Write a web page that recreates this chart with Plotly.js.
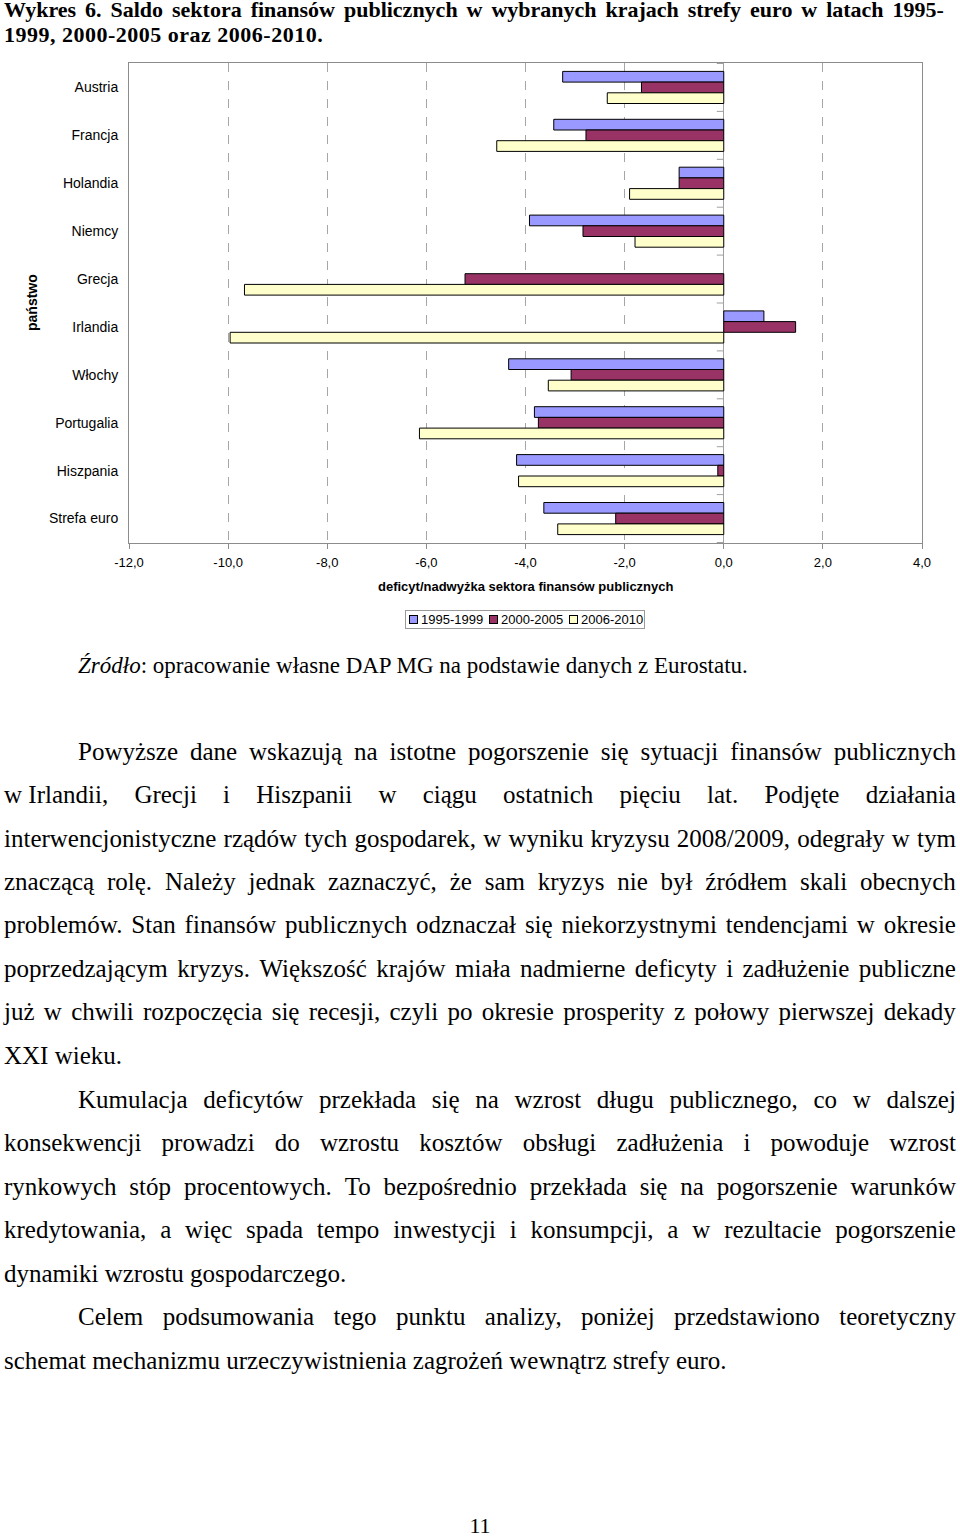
<!DOCTYPE html>
<html>
<head>
<meta charset="utf-8">
<script src="https://cdn.plot.ly/plotly-3.0.1.min.js"></script>
<style>
  html, body { margin: 0; padding: 0; background: #fff; }
  body { width: 960px; height: 1537px; position: relative; overflow: hidden; }
  #chart { position: absolute; left: 0; top: 0; width: 960px; height: 645px; }
  .serif { font-family: "Liberation Serif", "Times New Roman", serif; color: #000; }
  .line { position: absolute; left: 4px; width: 952px; height: 30px; line-height: 30px; font-size: 25px; white-space: nowrap; }
  .just { display: flex; justify-content: space-between; }
  .title { position: absolute; left: 4px; font-size: 22px; font-weight: bold; height: 26px; line-height: 26px; white-space: nowrap; }
  #legend { position: absolute; left: 405px; top: 610px; width: 238px; height: 17px; border: 1px solid #9a9a9a; background: #fff;
            font-family: "Liberation Sans", Arial, sans-serif; font-size: 13px; line-height: 17px; color: #000; }
  #legend .item { position: absolute; top: 0; white-space: nowrap; }
  #legend .sw { display: inline-block; width: 7px; height: 7px; border: 1px solid #000; margin-right: 3px; vertical-align: 0px; }
</style>
</head>
<body>
<div id="chart"></div>
<div id="legend"></div>
<div id="text"></div>
<script>
// ---- data ----
const categories = ["Austria", "Francja", "Holandia", "Niemcy", "Grecja", "Irlandia", "Włochy", "Portugalia", "Hiszpania", "Strefa euro"];
const seriesNames = ["1995-1999", "2000-2005", "2006-2010"];
const v1995_1999 = [-3.25, -3.43, -0.90, -3.92, null, 0.81, -4.34, -3.82, -4.18, -3.63];
const v2000_2005 = [-1.66, -2.78, -0.90, -2.84, -5.22, 1.45, -3.08, -3.74, -0.12, -2.18];
const v2006_2010 = [-2.35, -4.58, -1.90, -1.79, -9.67, -9.96, -3.54, -6.14, -4.14, -3.35];
const xTickValues = [-12, -10, -8, -6, -4, -2, 0, 2, 4];
const xTickLabels = ["-12,0", "-10,0", "-8,0", "-6,0", "-4,0", "-2,0", "0,0", "2,0", "4,0"];

const seriesValues = [v1995_1999, v2000_2005, v2006_2010];
const colors = ["#9999FF", "#993366", "#FFFFCC"];

const traces = seriesValues.map((vals, i) => ({
  type: "bar",
  orientation: "h",
  name: seriesNames[i],
  y: categories,
  x: vals,
  marker: { color: colors[i], line: { color: "#000000", width: 1 } },
  hoverinfo: "x+y+name"
}));

// small tick marks between categories on the vertical axis (drawn at x = 0)
const shapes = [];
for (let i = 0; i <= categories.length; i++) {
  shapes.push({
    type: "line", xref: "x", yref: "y",
    x0: -0.14, x1: 0, y0: i - 0.5, y1: i - 0.5,
    line: { color: "#a0a0a0", width: 1 }
  });
}

const layout = {
  width: 960, height: 645,
  margin: { l: 129, r: 38, t: 63, b: 102, pad: 0 },
  paper_bgcolor: "rgba(0,0,0,0)",
  plot_bgcolor: "#ffffff",
  separators: ",.",
  barmode: "group",
  bargap: 0.33,
  bargroupgap: 0,
  font: { family: "Liberation Sans, Arial, sans-serif", size: 13, color: "#000" },
  showlegend: false,
  xaxis: {
    range: [-12, 4], tickvals: xTickValues, ticktext: xTickLabels,
    showgrid: true, gridcolor: "#a6a6a6", griddash: "dash", gridwidth: 1,
    zeroline: true, zerolinecolor: "#a0a0a0", zerolinewidth: 1,
    showline: true, linecolor: "#8c8c8c", linewidth: 1, mirror: true,
    ticks: "outside", ticklen: 5, tickcolor: "#8c8c8c", ticklabelstandoff: 2,
    tickfont: { size: 13 }, fixedrange: true
  },
  yaxis: {
    type: "category", categoryorder: "array", categoryarray: categories,
    autorange: "reversed",
    showgrid: false, zeroline: false,
    showline: true, linecolor: "#8c8c8c", linewidth: 1, mirror: true,
    ticks: "", ticklabelstandoff: 7,
    tickfont: { size: 14 }, fixedrange: true
  },
  shapes: shapes,
  annotations: [
    { text: "<b>deficyt/nadwyżka sektora finansów publicznych</b>", xref: "paper", yref: "paper",
      x: 0.5, y: 0, xanchor: "center", yanchor: "middle", yshift: -43, showarrow: false,
      font: { size: 13 } },
    { text: "<b>państwo</b>", xref: "paper", yref: "paper", x: 0, y: 0.5,
      xanchor: "center", yanchor: "middle", xshift: -97, textangle: -90, showarrow: false,
      font: { size: 14 } }
  ]
};

Plotly.newPlot("chart", traces, layout, { displayModeBar: false, staticPlot: true });

// ---- legend (HTML, built from series names and colours) ----
const legendLefts = [3, 83, 163];
const legendEl = document.getElementById("legend");
seriesNames.forEach((n, i) => {
  const it = document.createElement("div");
  it.className = "item";
  it.style.left = legendLefts[i] + "px";
  const sw = document.createElement("span");
  sw.className = "sw";
  sw.style.background = colors[i];
  it.appendChild(sw);
  it.appendChild(document.createTextNode(n));
  legendEl.appendChild(it);
});

// ---- page text ----
const titleLines = [
  { text: "Wykres 6. Saldo sektora finansów publicznych w wybranych krajach strefy euro w latach 1995-", y: 10, justify: true, w: 940 },
  { text: "1999, 2000-2005 oraz 2006-2010.", y: 35, justify: false }
];
const bodyLines = [
  { t: "Powyższe dane wskazują na istotne pogorszenie się sytuacji finansów publicznych", y: 752, indent: true, j: true },
  { t: "w\u00a0Irlandii, Grecji i Hiszpanii w ciągu ostatnich pięciu lat. Podjęte działania", y: 795, j: true },
  { t: "interwencjonistyczne rządów tych gospodarek, w wyniku kryzysu 2008/2009, odegrały w tym", y: 839, j: true },
  { t: "znaczącą rolę. Należy jednak zaznaczyć, że sam kryzys nie był źródłem skali obecnych", y: 882, j: true },
  { t: "problemów. Stan finansów publicznych odznaczał się niekorzystnymi tendencjami w okresie", y: 925, j: true },
  { t: "poprzedzającym kryzys. Większość krajów miała nadmierne deficyty i zadłużenie publiczne", y: 969, j: true },
  { t: "już w chwili rozpoczęcia się recesji, czyli po okresie prosperity z połowy pierwszej dekady", y: 1012, j: true },
  { t: "XXI wieku.", y: 1056, j: false },
  { t: "Kumulacja deficytów przekłada się na wzrost długu publicznego, co w dalszej", y: 1100, indent: true, j: true },
  { t: "konsekwencji prowadzi do wzrostu kosztów obsługi zadłużenia i powoduje wzrost", y: 1143, j: true },
  { t: "rynkowych stóp procentowych. To bezpośrednio przekłada się na pogorszenie warunków", y: 1187, j: true },
  { t: "kredytowania, a więc spada tempo inwestycji i konsumpcji, a w rezultacie pogorszenie", y: 1230, j: true },
  { t: "dynamiki wzrostu gospodarczego.", y: 1274, j: false },
  { t: "Celem podsumowania tego punktu analizy, poniżej przedstawiono teoretyczny", y: 1317, indent: true, j: true },
  { t: "schemat mechanizmu urzeczywistnienia zagrożeń wewnątrz strefy euro.", y: 1361, j: false }
];

const host = document.getElementById("text");
function makeWords(el, text) {
  text.split(" ").forEach(w => {
    const s = document.createElement("span");
    s.textContent = w;
    el.appendChild(s);
  });
}
titleLines.forEach(l => {
  const d = document.createElement("div");
  d.className = "title serif" + (l.justify ? " just" : "");
  d.style.top = (l.y - 13) + "px";
  if (l.justify) { d.style.width = l.w + "px"; makeWords(d, l.text); }
  else { d.textContent = l.text; d.style.letterSpacing = "0.5px"; }
  host.appendChild(d);
});
bodyLines.forEach(l => {
  const d = document.createElement("div");
  d.className = "line serif" + (l.j ? " just" : "");
  d.style.top = (l.y - 15) + "px";
  if (l.indent) { d.style.left = "78px"; d.style.width = "878px"; }
  if (l.j) makeWords(d, l.t); else d.textContent = l.t;
  host.appendChild(d);
});

const src = document.createElement("div");
src.className = "serif";
src.style.cssText = "position:absolute;left:78px;top:652px;font-size:23px;line-height:28px;white-space:nowrap;";
src.innerHTML = "<i>Źródło</i>: opracowanie własne DAP MG na podstawie danych z Eurostatu.";
host.appendChild(src);

const pg = document.createElement("div");
pg.className = "serif";
pg.style.cssText = "position:absolute;left:0;width:960px;text-align:center;top:1512px;font-size:22px;line-height:28px;";
pg.textContent = "11";
host.appendChild(pg);
</script>
</body>
</html>
